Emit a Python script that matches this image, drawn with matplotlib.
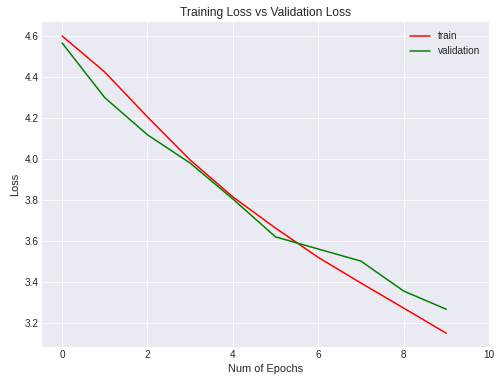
import matplotlib
matplotlib.use('Agg')
import matplotlib.pyplot as plt

# loss values
epochs = [0, 1, 2, 3, 4, 5, 6, 7, 8, 9]
train_loss = [4.600, 4.424, 4.205, 3.995, 3.815, 3.663, 3.520, 3.395, 3.273, 3.150]
val_loss = [4.566, 4.299, 4.118, 3.980, 3.805, 3.620, 3.561, 3.502, 3.356, 3.267]

plt.style.use('seaborn-v0_8-darkgrid')
plt.rcParams['font.family'] = ['Liberation Sans', 'DejaVu Sans']

fig = plt.figure(figsize=(501 / 72, 386 / 72), dpi=72)
ax = fig.add_subplot(111)
fig.subplots_adjust(left=42 / 501, right=489 / 501, top=1 - 22 / 386, bottom=1 - 347 / 386)

ax.plot(epochs, train_loss, color='red', label='train')
ax.plot(epochs, val_loss, color='green', label='validation')

ax.set_xlim(-0.47, 10)
ax.set_ylim(3.083, 4.668)
ax.set_xticks(range(0, 11, 2))
ax.set_title('Training Loss vs Validation Loss')
ax.set_xlabel('Num of Epochs', fontsize=11)
ax.set_ylabel('Loss', fontsize=11)
ax.legend(loc='upper right')

fig.savefig('out.png', dpi=72)
